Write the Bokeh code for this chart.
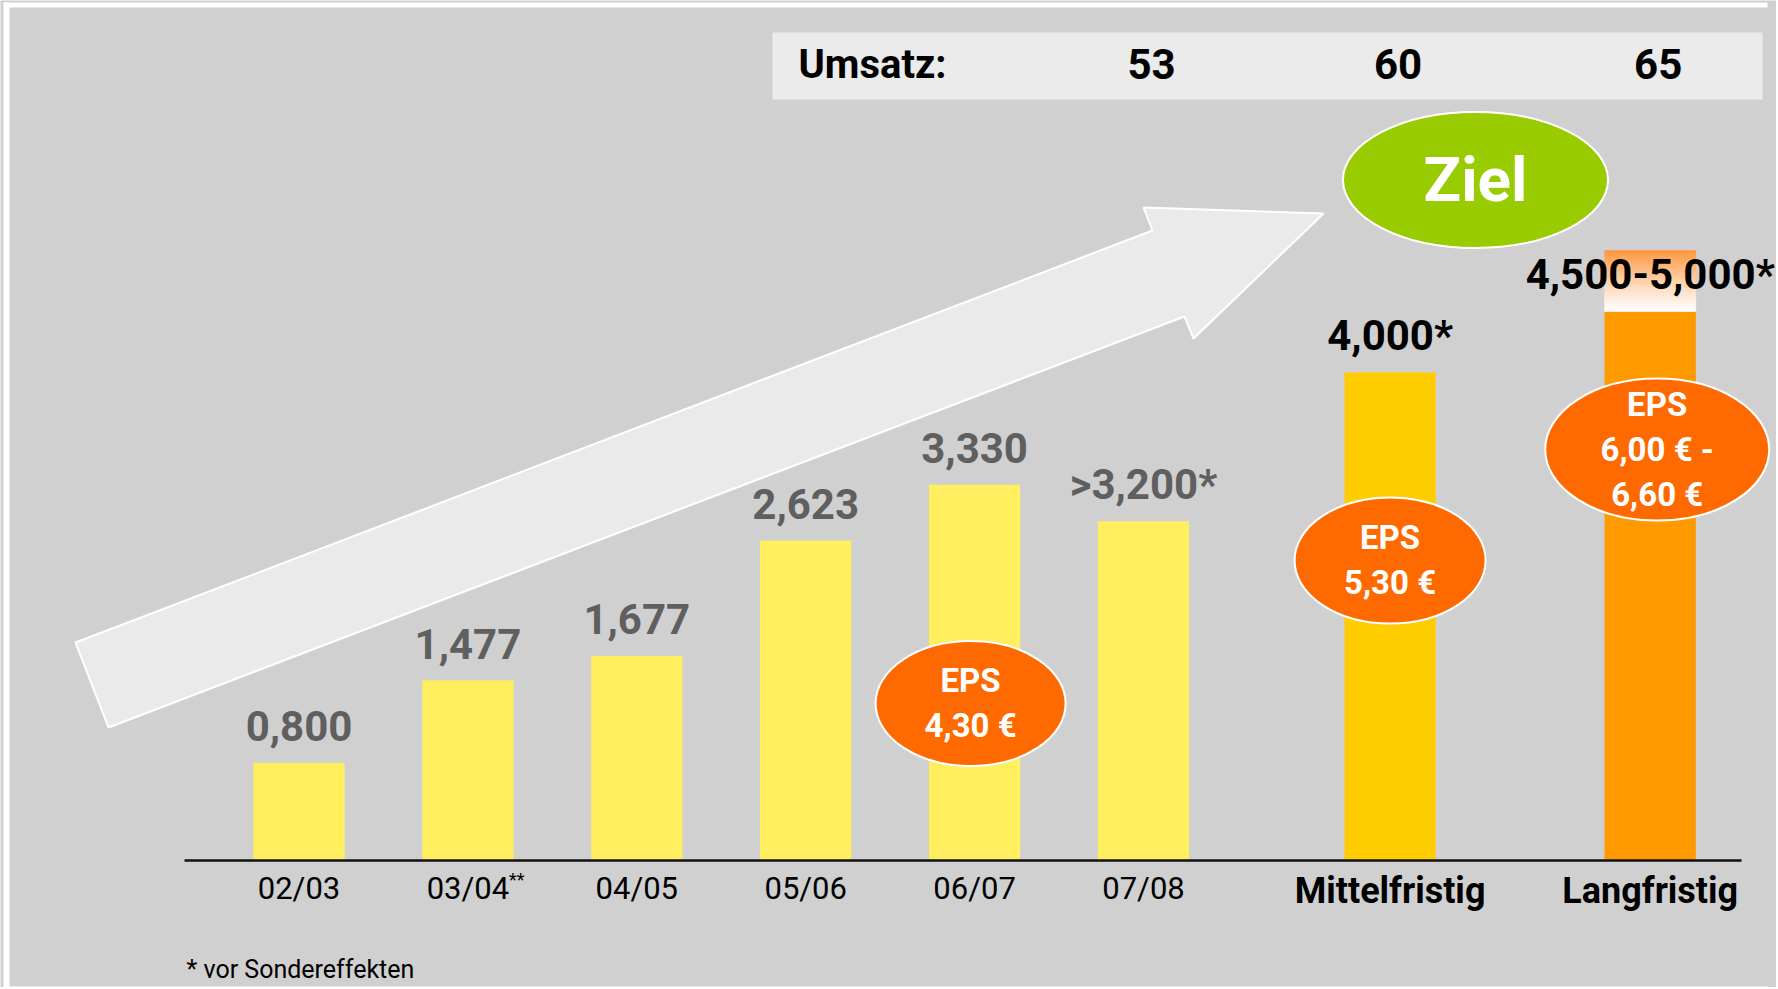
import numpy as np
from bokeh.plotting import figure
from bokeh.models import Range1d, ColumnDataSource
from bokeh.core.properties import value
from bokeh.embed import file_html
from bokeh.resources import INLINE

# ---------------- data ----------------
periods = ["02/03", "03/04", "04/05", "05/06", "06/07", "07/08", "Mittelfristig", "Langfristig"]
period_group = ["ist", "ist", "ist", "ist", "ist", "ist", "mittel", "lang"]
superscripts = ["", "**", "", "", "", "", "", ""]
bar_heights = [0.800, 1.477, 1.677, 2.623, 3.08, 2.78, 4.000, 4.500]
value_labels = ["0,800", "1,477", "1,677", "2,623", "3,330", ">3,200*", "4,000*", "4,500-5,000*"]
range_low = 4.5
range_high = 5.0
umsatz_title = "Umsatz:"
umsatz_periods = ["07/08", "Mittelfristig", "Langfristig"]
umsatz_values = ["53", "60", "65"]
eps_periods = ["06/07", "Mittelfristig", "Langfristig"]
eps_labels = ["EPS\n4,30 €", "EPS\n5,30 €", "EPS\n6,00 € -\n6,60 €"]
ziel_text = "Ziel"
footnote = "* vor Sondereffekten"

# ---------------- layout / style ----------------
W, H = 1776, 987
PAGE_X0, PAGE_Y0 = 0, 0
X_PX_UNIT = 168.9
Y_PX_UNIT = 122.0
FIRST_BAR_PAGE_X = 298.5
BASELINE_PAGE_Y = 860.0
GROUP_GAPS = {"mittel": 0.46, "lang": 0.54}
BAR_WIDTH = 0.54
SHIFT = 0.4  # em fraction to lift alphabetic-baseline texts

BG = "#D0D0D0"
BOX = "#EBEBEB"
YELLOW = "#FFEE5E"
GOLD = "#FFCC00"
ORANGE = "#FF9900"
EPS_ORANGE = "#FF6A00"
GREEN = "#99CC00"
GREY_TXT = "#5F5F5F"
FONT = value("Roboto")


def lift(fs):
    return SHIFT * fs


# category positions (gap between historical and target groups)
xpos = []
cur = 0.0
for i, g in enumerate(period_group):
    if i > 0:
        cur += 1.0 + (GROUP_GAPS.get(g, 0.0) if g != period_group[i - 1] else 0.0)
    xpos.append(cur)
pos_of = dict(zip(periods, xpos))

x_start = (PAGE_X0 - FIRST_BAR_PAGE_X) / X_PX_UNIT
x_end = (PAGE_X0 + W - FIRST_BAR_PAGE_X) / X_PX_UNIT
y_start = (BASELINE_PAGE_Y - (PAGE_Y0 + H)) / Y_PX_UNIT
y_end = (BASELINE_PAGE_Y - PAGE_Y0) / Y_PX_UNIT

p = figure(width=W, height=H, x_range=Range1d(x_start, x_end), y_range=Range1d(y_start, y_end),
           output_backend="svg", toolbar_location=None, min_border=0,
           x_axis_location=None, y_axis_location=None)
p.grid.visible = False
p.outline_line_color = None
p.background_fill_color = BG
p.border_fill_color = BG
# page-pixel helper ranges for decorations
p.extra_x_ranges = {"px": Range1d(PAGE_X0, PAGE_X0 + W)}
p.extra_y_ranges = {"py": Range1d(PAGE_Y0 + H, PAGE_Y0)}

# white frame lines
p.quad(left=[3, 3, 3], right=[1767, 9, 1767], top=[2, 2, 986], bottom=[7, 990, 990],
       fill_color="white", line_color=None, x_range_name="px", y_range_name="py")

# Umsatz box
p.quad(left=[772], right=[1762], top=[32], bottom=[99], fill_color=BOX, line_color=None,
       x_range_name="px", y_range_name="py")
p.text(x=[798], y=[80 - lift(40)], text=[umsatz_title], text_align="left", text_baseline="alphabetic",
       text_font=FONT, text_font_style="bold", text_font_size="40px", text_color="black",
       x_range_name="px", y_range_name="py")
p.text(x=[pos_of[k] for k in umsatz_periods], y=[80 - lift(42)] * len(umsatz_values), text=umsatz_values,
       x_offset=8, text_align="center", text_baseline="alphabetic",
       text_font=FONT, text_font_style="bold", text_font_size="42px", text_color="black",
       y_range_name="py")

# big arrow
arrow_x = [75, 1152, 1143, 1323, 1193, 1184, 108]
arrow_y = [642, 230, 207, 213, 338, 316, 727]
p.patch(arrow_x, arrow_y, fill_color="#EAEAEA", line_color="white", line_width=2,
        x_range_name="px", y_range_name="py")

# bars
bar_colors = [YELLOW if g == "ist" else (GOLD if g == "mittel" else ORANGE) for g in period_group]
src = ColumnDataSource(dict(x=xpos, top=bar_heights, color=bar_colors, label=value_labels,
                            lcolor=[GREY_TXT if g == "ist" else "black" for g in period_group]))
p.vbar(x="x", top="top", bottom=0, width=BAR_WIDTH, fill_color="color", line_color=None, source=src)

# target range gradient (white at bottom -> orange at top)
N = 30
lo_c = np.array([255, 255, 255])
hi_c = np.array([255, 150, 60])
g_bottom, g_top, g_col = [], [], []
for i in range(N):
    t = (i + 0.5) / N
    c = lo_c + (hi_c - lo_c) * (t ** 1.2)
    g_bottom.append(range_low + (range_high - range_low) * i / N)
    g_top.append(range_low + (range_high - range_low) * (i + 1) / N)
    g_col.append("#%02x%02x%02x" % tuple(int(round(v)) for v in c))
p.vbar(x=[pos_of["Langfristig"]] * N, bottom=g_bottom, top=g_top, width=BAR_WIDTH,
       fill_color=g_col, line_color=g_col, line_width=0.5)

# baseline
p.segment(x0=[184], x1=[1741], y0=[0], y1=[0], line_color="#111111", line_width=2.5,
          x_range_name="px")

# value labels
p.text(x="x", y="top", text="label", source=src, y_offset=-20 - lift(42), text_align="center",
       text_baseline="alphabetic", text_font=FONT, text_font_style="bold",
       text_font_size="42px", text_color="lcolor")

# category labels
hist = [i for i, g in enumerate(period_group) if g == "ist"]
targ = [i for i, g in enumerate(period_group) if g != "ist"]
p.text(x=[xpos[i] for i in hist], y=[0] * len(hist), text=[periods[i] for i in hist],
       y_offset=40 - lift(31), text_align="center", text_baseline="alphabetic", text_font=FONT,
       text_font_size="31px", text_color="black")
p.text(x=[xpos[i] for i in targ], y=[0] * len(targ), text=[periods[i] for i in targ],
       y_offset=45 - lift(36), text_align="center", text_baseline="alphabetic", text_font=FONT,
       text_font_style="bold", text_font_size="36px", text_color="black")
sup_i = [i for i, s in enumerate(superscripts) if s]
p.text(x=[xpos[i] for i in sup_i], y=[0] * len(sup_i), text=[superscripts[i] for i in sup_i],
       x_offset=41, y_offset=8, text_align="left", text_baseline="top", text_font=FONT,
       text_font_size="18px", text_color="black")

# EPS ellipses (centre shifted a few pixels from the bar centre)
eps_cy = [703, 560, 449]
eps_dx = [-4, 0, 7]
eps_w = [190, 191, 224]
eps_h = [125, 126, 142]
eps_x = [pos_of[k] + dx / X_PX_UNIT for k, dx in zip(eps_periods, eps_dx)]
p.ellipse(x=eps_x, y=eps_cy, width=eps_w, height=eps_h, width_units="screen", height_units="screen",
          fill_color=EPS_ORANGE, line_color="white", line_width=2, y_range_name="py")
lx, ly, lt = [], [], []
for x, cy, lab in zip(eps_x, eps_cy, eps_labels):
    lines = lab.split("\n")
    n = len(lines)
    for i, ln in enumerate(lines):
        lx.append(x)
        ly.append(cy + (i - (n - 1) / 2) * 45 + 13 - lift(33))
        lt.append(ln)
tsrc = ColumnDataSource(dict(x=lx, y=ly, t=lt))
p.text(x="x", y="y", text="t", source=tsrc, text_align="center", text_baseline="alphabetic",
       text_font=FONT, text_font_style="bold", text_font_size="33px", text_color="white",
       y_range_name="py")

# Ziel ellipse
p.ellipse(x=[1475], y=[179.5], width=[265], height=[136], width_units="screen", height_units="screen",
          fill_color=GREEN, line_color="white", line_width=2, x_range_name="px", y_range_name="py")
p.text(x=[1475], y=[204 - lift(62)], text=[ziel_text], text_align="center", text_baseline="alphabetic",
       text_font=FONT, text_font_style="bold", text_font_size="62px", text_color="white",
       x_range_name="px", y_range_name="py")

# footnote
p.text(x=[186], y=[979 - lift(25)], text=[footnote], text_align="left", text_baseline="alphabetic",
       text_font=FONT, text_font_size="25px", text_color="black",
       x_range_name="px", y_range_name="py")

open("out.html", "w").write(file_html(p, INLINE))
